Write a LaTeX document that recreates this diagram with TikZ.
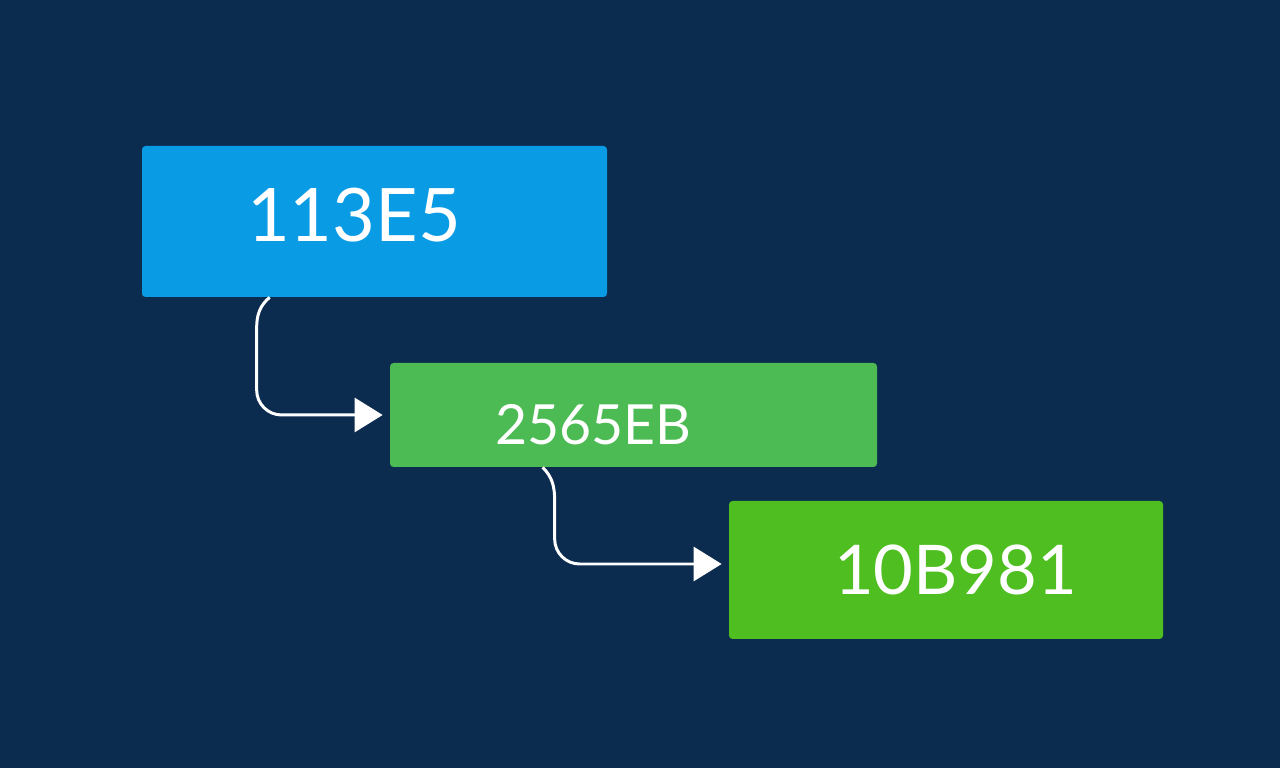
\documentclass[tikz,border=0pt]{standalone}
\usepackage{fontspec}
\setmainfont{Lato}
\usetikzlibrary{arrows.meta}
\definecolor{navybg}{HTML}{0B2B4F}
\definecolor{hexblue}{HTML}{0A9BE5}
\definecolor{hexgreen}{HTML}{4DBB54}
\definecolor{hexlime}{HTML}{4EBE20}
\tikzset{
  hexbox/.style={fill=#1,rounded corners=2pt,text=white,align=left,
    inner xsep=2.1cm,inner ysep=0pt,anchor=center},
  conn/.style={draw=white,line width=1.7pt,
    -{Triangle[length=0.56cm,width=0.68cm]},shorten >=0.14cm}
}

\begin{document}
\begin{tikzpicture}
\fill[navybg] (0,0) rectangle (25.6,15.36);
\useasboundingbox (0,0) rectangle (25.6,15.36);
% boxes
\node[hexbox=hexblue,text width=5.1cm,minimum height=3.02cm,
  text height=1.04cm,text depth=0.22cm,font=\fontsize{42}{42}\selectfont]
  (b1) at (7.49,10.93) {113E5};
\node[hexbox=hexgreen,text width=5.54cm,minimum height=2.08cm,
  text height=1.2cm,text depth=0cm,font=\fontsize{31.5}{31.5}\selectfont]
  (b2) at (12.67,7.06) {2565EB};
\node[hexbox=hexlime,text width=4.48cm,minimum height=2.76cm,
  text height=1.0cm,text depth=0cm,font=\fontsize{39}{39}\selectfont]
  (b3) at (18.92,3.96) {10B981};
% links
\draw[conn] ([xshift=2.56cm]b1.south west) to[out=-140,in=90] ++(-0.26,-0.62)
  [rounded corners=0.5cm] |- (b2.west);
\draw[conn] ([xshift=3.06cm]b2.south west) to[out=-45,in=90] ++(0.24,-0.66)
  [rounded corners=0.5cm] |- ([yshift=0.12cm]b3.west);
\end{tikzpicture}
\end{document}
